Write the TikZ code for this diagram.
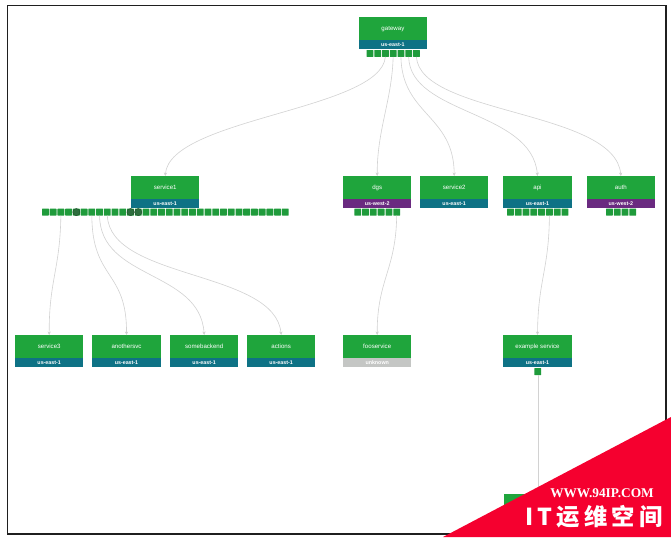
\documentclass[tikz,border=0pt]{standalone}
\usepackage{fontspec}
\setmainfont{Liberation Sans}
\newfontfamily\wmserif{Liberation Serif}
\newfontfamily\wmcjk[LetterSpace=18]{Noto Sans CJK SC}
\usetikzlibrary{arrows.meta}
\definecolor{svcgreen}{HTML}{1FA53C}
\definecolor{chipgreen}{HTML}{1F9B3B}
\definecolor{chipdark}{HTML}{2E6E3E}
\definecolor{teal}{HTML}{0E7285}
\definecolor{plum}{HTML}{6A2A80}
\definecolor{unk}{HTML}{C4C6C4}
\definecolor{edgegray}{HTML}{D2D2D2}
\definecolor{wmred}{HTML}{F5002F}
\tikzset{
  head/.style={anchor=north west,inner sep=0pt,outer sep=0pt,fill=svcgreen,text=white,
    minimum width=68.4*0.75pt,minimum height=23.3*0.75pt,font=\fontsize{4.6pt}{5pt}\selectfont},
  band/.style={anchor=north west,inner sep=0pt,outer sep=0pt,text=white,
    minimum width=68.4*0.75pt,minimum height=8.5*0.75pt,font=\fontsize{4pt}{5pt}\selectfont\bfseries},
  chip/.style={anchor=north west,inner sep=0pt,outer sep=0pt,fill=chipgreen,rounded corners=0.25pt,
    minimum width=6.8*0.75pt,minimum height=6.8*0.75pt},
  chipalert/.style={circle,fill=chipdark,draw=chipdark!70!black,line width=0.3pt,
    inner sep=0pt,minimum size=7.2*0.75pt},
  link/.style={draw=edgegray,line width=0.45pt,-{Stealth[length=2.6pt,width=2.4pt,fill=gray!60]}},
  frameline/.style={draw=black!88,line width=1.2pt},
}
\newcommand{\svcbox}[6]{%
  \node[head] (#1) at (#2,#3) {#4};
  \node[band,fill=#6] (#1-region) at (#2,#3+23.3) {#5};
}
\newcommand{\chiprow}[5]{%
  \foreach \i in {1,...,#4} {
    \node[chip] (#1-\i) at ({#2+(\i-1)*#5},#3) {};
  }
}
\begin{document}
\begin{tikzpicture}[x=0.75pt,y=-0.75pt]
\useasboundingbox (0,0) rectangle (671,537);
\fill[white] (0,0) rectangle (671,537);
\draw[frameline] (7.5,5.5) rectangle (666,534);

\svcbox{gateway}{358.7}{17}{gateway}{us-east-1}{teal}
\chiprow{gateway}{366.5}{50}{7}{7.75}

\svcbox{service1}{131}{176}{service1}{us-east-1}{teal}
\chiprow{service1}{42}{208.7}{32}{7.74}
\foreach \i in {5,12,13} {
  \node[chipalert] at (service1-\i) {};
}
\svcbox{dgs}{343}{176}{dgs}{us-west-2}{plum}
\chiprow{dgs}{354.3}{208.7}{6}{7.8}
\svcbox{service2}{420}{176}{service2}{us-east-1}{teal}
\svcbox{api}{503.3}{176}{api}{us-east-1}{teal}
\chiprow{api}{507}{208.7}{8}{7.8}
\svcbox{auth}{586.7}{176}{auth}{us-west-2}{plum}
\chiprow{auth}{606}{208.7}{4}{7.8}

\svcbox{service3}{15}{335}{service3}{us-east-1}{teal}
\svcbox{anothersvc}{92.3}{335}{anothersvc}{us-east-1}{teal}
\svcbox{somebackend}{170}{335}{somebackend}{us-east-1}{teal}
\svcbox{actions}{247}{335}{actions}{us-east-1}{teal}
\svcbox{fooservice}{343}{335}{fooservice}{unknown}{unk}
\svcbox{example}{503.3}{335}{example service}{us-east-1}{teal}
\node[chip] (example-1) at (534.4,368.2) {};
\node[anchor=north west,inner sep=0pt,fill=svcgreen,minimum width=68.4*0.75pt,minimum height=24*0.75pt] (bottom) at (503.3,494) {};

\draw[link] (gateway-3.south) .. controls (381,110) and (170,118) .. (service1.north);
\draw[link] (gateway-4.south) .. controls (392,100) and (377,130) .. (dgs.north);
\draw[link] (gateway-5.south) .. controls (402,115) and (454,115) .. (service2.north);
\draw[link] (gateway-6.south) .. controls (410,115) and (532,110) .. (api.north);
\draw[link] (gateway-7.south) .. controls (420,115) and (615,110) .. (auth.north);

\draw[link] (service1-3.south) .. controls (60,270) and (49,280) .. (service3.north);
\draw[link] (service1-7.south) .. controls (92,280) and (127,270) .. (anothersvc.north);
\draw[link] (service1-8.south) .. controls (100,280) and (200,270) .. (somebackend.north);
\draw[link] (service1-9.south) .. controls (110,280) and (275,270) .. (actions.north);
\draw[link] (dgs-6.south) .. controls (396,270) and (377,280) .. (fooservice.north);
\draw[link] (api-6.south) .. controls (549,270) and (538,280) .. (example.north);
\draw[link] (example-1.south) -- (bottom.north-|example-1.south);

\fill[wmred] (671,417) -- (443,537) -- (671,537) -- cycle;
\node[inner sep=0pt,text=white,font=\wmserif\bfseries\fontsize{10pt}{12pt}\selectfont] (wmurl) at (602,493) {WWW.94IP.COM};
\node[inner sep=0pt,text=white,font=\wmcjk\bfseries\fontsize{17.5pt}{20pt}\selectfont] (wmname) at (594,517) {IT运维空间};
\end{tikzpicture}
\end{document}
